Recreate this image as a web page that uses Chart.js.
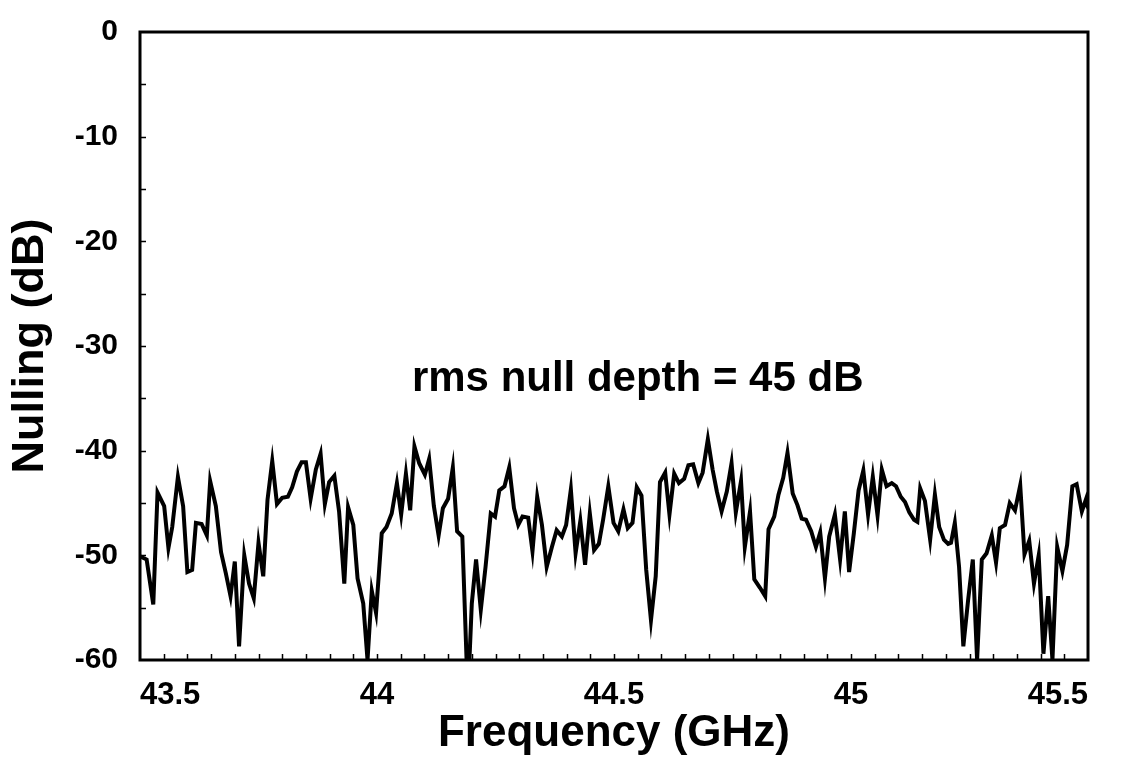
<!DOCTYPE html>
<html>
<head>
<meta charset="utf-8">
<script src="https://cdn.jsdelivr.net/npm/chart.js@4"></script>
<style>
  html, body { margin: 0; padding: 0; background: #fff; }
  #wrap { width: 1122px; height: 760px; }
</style>
</head>
<body>
<div id="wrap"><canvas id="myChart" width="1122" height="760"></canvas></div>
<script>
// frequency samples (GHz)
const freqGHz = [
  43.500, 43.514, 43.528, 43.537, 43.551, 43.560, 43.568, 43.580, 43.591, 43.600,
  43.610, 43.618, 43.630, 43.641, 43.648, 43.660, 43.671, 43.681, 43.691, 43.700,
  43.709, 43.720, 43.730, 43.740, 43.750, 43.760, 43.769, 43.779, 43.789, 43.800,
  43.812, 43.821, 43.831, 43.841, 43.850, 43.860, 43.871, 43.881, 43.890, 43.899,
  43.910, 43.920, 43.931, 43.939, 43.950, 43.959, 43.971, 43.980, 43.989, 43.998,
  44.010, 44.020, 44.031, 44.042, 44.051, 44.061, 44.070, 44.079, 44.089, 44.101,
  44.110, 44.120, 44.130, 44.139, 44.150, 44.160, 44.169, 44.180, 44.189, 44.195,
  44.200, 44.209, 44.219, 44.229, 44.240, 44.249, 44.258, 44.269, 44.279, 44.289,
  44.298, 44.307, 44.319, 44.328, 44.338, 44.348, 44.358, 44.369, 44.379, 44.390,
  44.399, 44.409, 44.419, 44.429, 44.439, 44.449, 44.458, 44.468, 44.477, 44.488,
  44.499, 44.509, 44.520, 44.529, 44.539, 44.548, 44.558, 44.568, 44.578, 44.588,
  44.597, 44.608, 44.617, 44.627, 44.637, 44.648, 44.657, 44.667, 44.678, 44.687,
  44.698, 44.708, 44.717, 44.727, 44.738, 44.748, 44.757, 44.768, 44.776, 44.787,
  44.796, 44.808, 44.819, 44.826, 44.838, 44.847, 44.857, 44.866, 44.877, 44.887,
  44.896, 44.905, 44.916, 44.926, 44.935, 44.945, 44.954, 44.966, 44.977, 44.987,
  44.996, 45.006, 45.016, 45.026, 45.036, 45.046, 45.056, 45.065, 45.075, 45.086,
  45.095, 45.105, 45.114, 45.123, 45.133, 45.140, 45.146, 45.156, 45.167, 45.177,
  45.186, 45.196, 45.205, 45.211, 45.219, 45.228, 45.237, 45.247, 45.257, 45.266,
  45.276, 45.286, 45.297, 45.306, 45.314, 45.325, 45.335, 45.346, 45.357, 45.366,
  45.376, 45.386, 45.396, 45.406, 45.416, 45.425, 45.435, 45.446, 45.456, 45.467,
  45.476, 45.487, 45.496, 45.500
];

// nulling (dB) at each frequency
const nullingDb = [
  -50.1, -50.4, -54.7, -44.0, -45.3, -49.3, -47.3, -42.5, -45.3, -51.6,
  -51.4, -46.9, -47.0, -48.1, -42.9, -45.3, -49.7, -51.7, -53.9, -50.6,
  -58.7, -50.0, -52.7, -54.1, -48.8, -52.0, -44.7, -41.0, -45.1, -44.5,
  -44.4, -43.5, -42.0, -41.1, -41.1, -44.6, -41.8, -40.3, -45.1, -43.0,
  -42.4, -45.8, -52.7, -45.4, -47.1, -52.2, -54.6, -60.0, -53.4, -55.5,
  -47.9, -47.3, -46.0, -43.1, -46.1, -42.2, -45.7, -39.6, -41.2, -42.3,
  -40.8, -45.3, -48.1, -45.5, -44.6, -41.6, -47.7, -48.2, -60.0, -60.0,
  -54.6, -50.4, -55.2, -51.1, -46.0, -46.3, -43.8, -43.4, -41.6, -45.5,
  -47.1, -46.3, -46.4, -49.6, -44.4, -47.1, -51.1, -49.2, -47.6, -48.2,
  -47.1, -43.7, -49.8, -46.7, -50.9, -46.0, -49.5, -48.9, -46.6, -43.4,
  -46.9, -47.7, -45.6, -47.4, -46.9, -43.5, -44.3, -51.4, -56.2, -52.0,
  -43.0, -42.1, -46.1, -42.2, -43.1, -42.7, -41.4, -41.3, -43.1, -42.1,
  -38.9, -41.8, -43.9, -45.8, -43.9, -41.2, -45.9, -42.9, -49.2, -45.8,
  -52.3, -53.1, -53.9, -47.5, -46.3, -44.2, -42.6, -40.2, -44.1, -45.2,
  -46.5, -46.6, -47.7, -49.2, -47.8, -52.2, -48.2, -46.1, -50.4, -45.8,
  -51.6, -47.9, -43.8, -41.9, -46.1, -42.5, -46.2, -41.8, -43.4, -43.1,
  -43.4, -44.4, -44.9, -45.9, -46.6, -46.8, -43.6, -44.8, -48.5, -44.2,
  -47.3, -48.5, -48.9, -48.8, -46.9, -51.1, -58.7, -54.3, -50.4, -60.0,
  -50.4, -49.8, -48.1, -50.7, -47.4, -47.1, -45.0, -45.7, -43.3, -49.9,
  -48.6, -52.7, -50.0, -59.4, -53.9, -60.0, -49.2, -51.5, -49.0, -43.4,
  -43.2, -45.8, -44.6, -45.5
];

const xTicks = [43.5, 44, 44.5, 45, 45.5];
const yTicks = [0, -10, -20, -30, -40, -50, -60];
const noteText = 'rms null depth = 45 dB';

const FONT = 'Arial, "Liberation Sans", Helvetica, sans-serif';

const points = freqGHz.map((f, i) => ({ x: f, y: nullingDb[i] }));

// frame, small inward ticks and the note
const framePlugin = {
  id: 'frame',
  afterDraw(chart) {
    const { ctx, chartArea: a, scales } = chart;
    ctx.save();
    ctx.strokeStyle = '#000';
    ctx.lineWidth = 1.5;
    ctx.beginPath();
    for (let v = -55; v < 0; v += 5) {
      const y = Math.round(scales.y.getPixelForValue(v)) + 0.5;
      ctx.moveTo(a.left, y);
      ctx.lineTo(a.left + 6, y);
    }
    for (let k = 1; k < 40; k++) {
      const x = Math.round(scales.x.getPixelForValue(43.5 + k * 0.05)) + 0.5;
      ctx.moveTo(x, a.bottom);
      ctx.lineTo(x, a.bottom - 6);
    }
    ctx.stroke();
    ctx.lineWidth = 3;
    ctx.strokeRect(a.left, a.top, a.right - a.left, a.bottom - a.top);

    ctx.fillStyle = '#000';
    ctx.font = 'bold 42px ' + FONT;
    ctx.textAlign = 'center';
    ctx.textBaseline = 'middle';
    ctx.fillText(noteText, scales.x.getPixelForValue(44.55), scales.y.getPixelForValue(-33.2));
    ctx.restore();
  }
};

new Chart('myChart', {
  type: 'line',
  data: {
    datasets: [{
      data: points,
      borderColor: '#000',
      borderWidth: 4,
      pointRadius: 0,
      tension: 0,
      fill: false
    }]
  },
  options: {
    responsive: false,
    animation: false,
    events: [],
    layout: { padding: { top: 32, right: 34, bottom: 0, left: 0 } },
    plugins: { legend: { display: false }, tooltip: { enabled: false } },
    scales: {
      x: {
        type: 'linear',
        min: 43.5,
        max: 45.5,
        afterFit(scale) { scale.height = 100; scale.paddingLeft = 0; scale.paddingRight = 0; },
        afterBuildTicks(scale) { scale.ticks = xTicks.map(v => ({ value: v })); },
        grid: { display: false },
        border: { display: false },
        ticks: {
          color: '#000', padding: 9, maxRotation: 0, align: 'inner',
          callback: v => String(v),
          font: { family: FONT, size: 31, weight: 'bold' }
        },
        title: {
          display: true,
          text: 'Frequency (GHz)',
          color: '#000',
          padding: { top: 0, bottom: 0 },
          font: { family: FONT, size: 44, weight: 'bold' }
        }
      },
      y: {
        min: -60,
        max: 0,
        afterFit(scale) { scale.width = 140; },
        afterBuildTicks(scale) { scale.ticks = yTicks.map(v => ({ value: v })); },
        grid: { display: false },
        border: { display: false },
        ticks: {
          color: '#000', padding: 14,
          callback: v => String(v),
          font: { family: FONT, size: 30, weight: 'bold' }
        },
        title: {
          display: true,
          text: 'Nulling (dB)',
          color: '#000',
          padding: { top: 4, bottom: 0 },
          font: { family: FONT, size: 45, weight: 'bold' }
        }
      }
    }
  },
  plugins: [framePlugin]
});
</script>
</body>
</html>
